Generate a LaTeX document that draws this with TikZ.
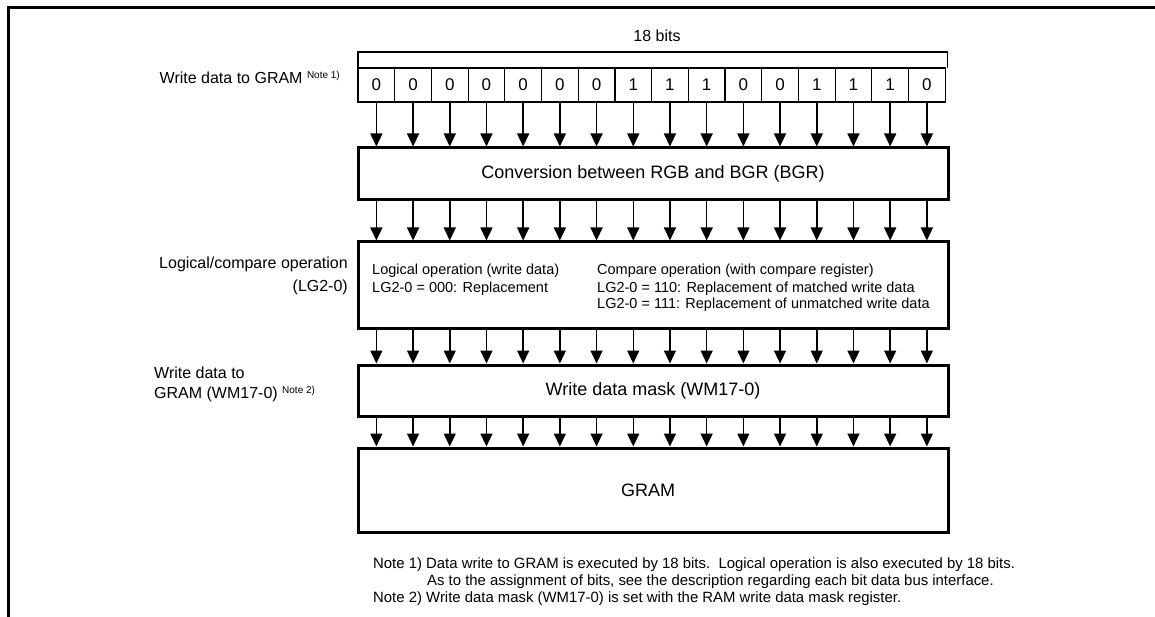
\documentclass[tikz,border=0pt]{standalone}
\usepackage{fontspec}
\setmainfont{Liberation Sans}
\usetikzlibrary{arrows.meta}
\begin{document}
\begin{tikzpicture}[x=1pt,y=-1pt,
  cell/.style={draw, line width=1.2pt, minimum width=36.7pt, minimum height=34pt, inner sep=0pt, outer sep=0pt, anchor=north west, font=\fontsize{17}{19}\selectfont},
  box/.style={draw, line width=3pt, inner sep=0pt, outer sep=1.5pt, anchor=north west, minimum width=590pt},
  arr/.style={line width=1.5pt, -{Triangle[width=12pt,length=13pt]}},
  lbl/.style={font=\fontsize{16}{19}\selectfont, inner sep=0pt},
  boxt/.style={font=\fontsize{18}{21}\selectfont, inner sep=0pt},
  inl/.style={font=\fontsize{14.5}{17}\selectfont, inner sep=0pt, anchor=base west},
  note/.style={font=\fontsize{14.9}{17}\selectfont, inner sep=0pt, anchor=base west}]
\newcommand{\notesup}[1]{\raisebox{5pt}{\fontsize{10}{11}\selectfont #1}}
\useasboundingbox (0,0) rectangle (1155,617);
% frame
\draw[line width=3pt] (8,617) -- (8,8) -- (1155,8);
% bracket
\coordinate (bl) at (358,68);
\coordinate (br) at (947.5,68);
\draw[line width=1.2pt] (bl) -- ++(0,-16) -| (br);
\node[lbl, anchor=base] (bits) at (657,42) {18 bits};
% cells
\foreach \v [count=\i] in {0,0,0,0,0,0,0,1,1,1,0,0,1,1,1,0} {
  \node[cell] (c\i) at ({358+36.7*(\i-1)},68) {\v};
}
% boxes
\node[box, minimum height=52pt] (conv) at (356.5,146.5) {};
\node[boxt] (convt) at (conv.center) {Conversion between RGB and BGR (BGR)};
\node[box, minimum height=86pt] (logic) at (356.5,240.5) {};
\node[box, minimum height=51pt] (mask) at (356.5,363.5) {};
\node[boxt] (maskt) at (mask.center) {Write data mask (WM17-0)};
\node[box, minimum height=84pt] (gram) at (356.5,446.5) {};
\node[boxt] (gramt) at ([xshift=-5pt]gram.center) {GRAM};
% arrows
\foreach \i in {1,...,16} {
  \draw[arr] (c\i.south) -- (c\i.south |- conv.north);
  \draw[arr] (c\i.south |- conv.south) -- (c\i.south |- logic.north);
  \draw[arr] (c\i.south |- logic.south) -- (c\i.south |- mask.north);
  \draw[arr] (c\i.south |- mask.south) -- (c\i.south |- gram.north);
}
% inside logic box
\node[inl] (lo1) at (372,275) {Logical operation (write data)};
\node[inl] (lo2) at (372,292) {LG2-0 = 000: Replacement};
\node[inl] (co1) at (597,275) {Compare operation (with compare register)};
\node[inl] (co2) at (597,292) {LG2-0 = 110: Replacement of matched write data};
\node[inl] (co3) at (597,308) {LG2-0 = 111: Replacement of unmatched write data};
% left labels
\node[lbl, anchor=base east] (wd) at (340,84) {Write data to GRAM \notesup{Note 1)}};
\node[lbl, anchor=base east] (lc1) at (348,269) {Logical/compare operation};
\node[lbl, anchor=base east] (lc2) at (348,291) {(LG2-0)};
\node[lbl, anchor=base west] (wm1) at (154,378) {Write data to};
\node[lbl, anchor=base west] (wm2) at (154,398) {GRAM (WM17-0) \notesup{Note 2)}};
% notes
\node[note] (n1) at (373,568) {Note 1) Data write to GRAM is executed by 18 bits.\ \ Logical operation is also executed by 18 bits.};
\node[note] (n1b) at (427,585) {As to the assignment of bits, see the description regarding each bit data bus interface.};
\node[note] (n2) at (373,602) {Note 2) Write data mask (WM17-0) is set with the RAM write data mask register.};
\end{tikzpicture}
\end{document}
